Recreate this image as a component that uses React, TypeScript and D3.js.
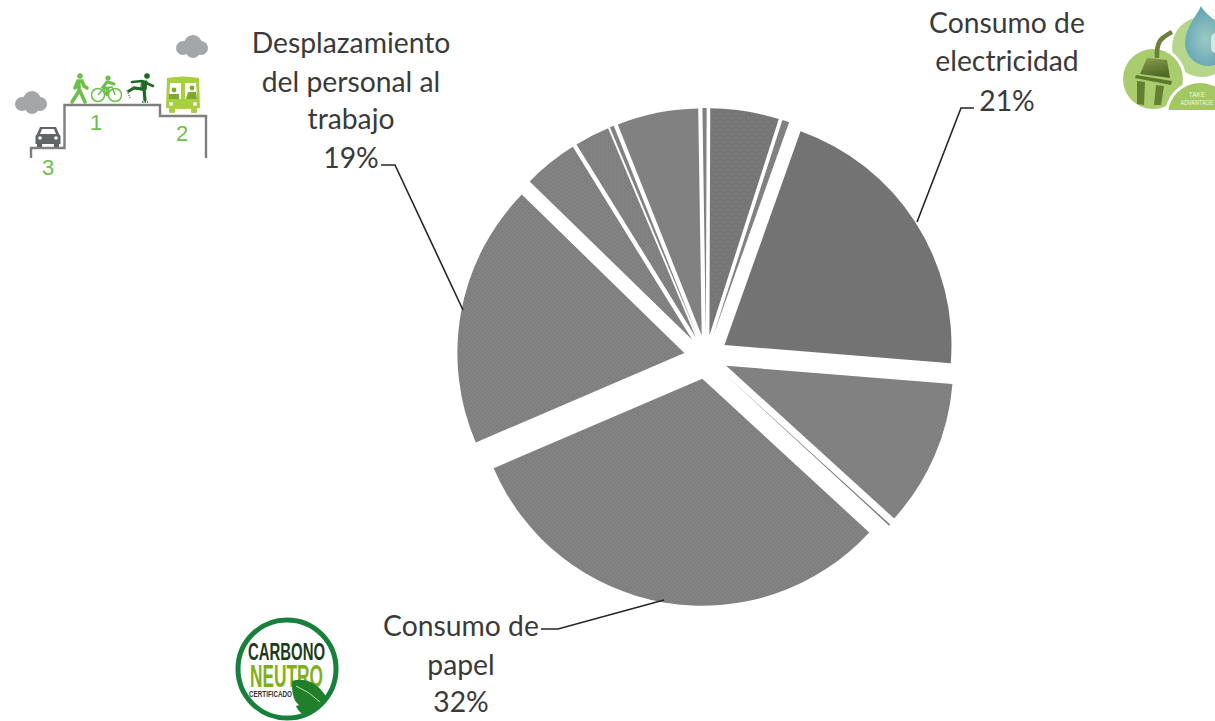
import React from "react";
import * as d3 from "d3";

const sliceNames = ["Fuente A", "Fuente B", "Consumo de electricidad", "Fuente D", "Fuente E", "Consumo de papel", "Desplazamiento del personal al trabajo", "Fuente F", "Fuente G", "Fuente H", "Fuente I", "Fuente J"];
const sliceValues = [4.9, 0.5, 20.9, 10.5, 0.1, 31.8, 18.8, 3.9, 2.5, 0.3, 5.8, 0.3];
const sliceFills = ["url(#ditherDark)", "url(#dither)", "#737373", "url(#dither)", "#777777", "url(#dither)", "url(#dither)", "url(#dither)", "url(#dither)", "url(#dither)", "url(#dither)", "url(#dither)"];

const labelLines = [
  { lines: ["Desplazamiento", "del personal al", "trabajo", "19%"], x: 351, ys: [53, 92, 129, 168] },
  { lines: ["Consumo de", "electricidad", "21%"], x: 1007, ys: [33, 71, 111] },
  { lines: ["Consumo de", "papel", "32%"], x: 461, ys: [636, 675, 712] },
];
const leaders = [
  [[381, 165], [395, 165], [463, 310]],
  [[917, 222], [961, 108], [974, 108]],
  [[541, 629], [558, 629], [664, 600]],
];

const CX = 706, CY = 357, R = 227, EXPLODE = 22;
const FONT = "Lato, 'Noto Sans', sans-serif";
const NARROW = "'Liberation Sans Narrow', 'Liberation Sans', sans-serif";

function Cloud({ x, y }: { x: number; y: number }) {
  return (
    <g fill="#a4a6a9" transform={`translate(${x},${y})`}>
      <circle cx={-9} cy={1} r={7} />
      <circle cx={1} cy={-3} r={9} />
      <circle cx={9} cy={1} r={7} />
      <circle cx={1} cy={4} r={7} />
    </g>
  );
}

export default function App() {
  const pie = d3.pie<number>().sort(null).startAngle((0.2 * Math.PI) / 180).endAngle(2 * Math.PI + (0.2 * Math.PI) / 180);
  const arcs = pie(sliceValues);
  const arc = d3.arc<d3.PieArcDatum<number>>().innerRadius(0).outerRadius(R);
  const line = d3.line();

  return (
    <svg width={1215} height={721} viewBox="0 0 1215 721" style={{ position: "absolute", left: 0, top: 0, background: "#fff" }}>
      <defs>
        <pattern id="dither" width={4} height={4} patternUnits="userSpaceOnUse">
          <rect width={4} height={4} fill="#838383" />
          <rect x={0} y={0} width={1} height={1} fill="#707070" />
          <rect x={2} y={2} width={1} height={1} fill="#747474" />
        </pattern>
        <pattern id="ditherDark" width={8} height={8} patternUnits="userSpaceOnUse">
          <rect width={8} height={8} fill="#767676" />
          <rect x={2} y={2} width={1} height={1} fill="#8c8c8c" />
          <rect x={6} y={6} width={1} height={1} fill="#8c8c8c" />
        </pattern>
        <radialGradient id="drop" cx="0.45" cy="0.55" r="0.7">
          <stop offset="0" stopColor="#9cc9c4" />
          <stop offset="1" stopColor="#4f98ad" />
        </radialGradient>
        <linearGradient id="plug" x1="0" y1="0" x2="0.3" y2="1">
          <stop offset="0" stopColor="#8a9c50" />
          <stop offset="1" stopColor="#4f6a25" />
        </linearGradient>
        <clipPath id="iconClip"><rect x={1100} y={0} width={115} height={110} /></clipPath>
        <clipPath id="leafClip"><circle cx={287} cy={669} r={49} /></clipPath>
      </defs>

      {/* Pie */}
      <g transform={`translate(${CX},${CY})`}>
        {arcs.map((a, i) => {
          const mid = (a.startAngle + a.endAngle) / 2;
          return (
            <path
              key={sliceNames[i]}
              d={arc(a) as string}
              fill={sliceFills[i]}
              transform={`translate(${EXPLODE * Math.sin(mid)},${-EXPLODE * Math.cos(mid)})`}
            />
          );
        })}
      </g>

      {/* Leader lines */}
      {leaders.map((l, i) => (
        <path key={i} d={line(l as [number, number][]) as string} fill="none" stroke="#262626" strokeWidth={1.6} />
      ))}

      {/* Labels */}
      {labelLines.map((g, i) => (
        <g key={i} fontFamily={FONT} fontSize={28.3} fill="#3a3a3a" textAnchor="middle">
          {g.lines.map((t, j) => (
            <text key={j} x={g.x} y={g.ys[j]}>{t}</text>
          ))}
        </g>
      ))}

      {/* Top-left: staircase pictogram */}
      <path d="M31,158 V148 H64.5 V105 H160 V116 H206 V158" fill="none" stroke="#7d7f80" strokeWidth={2.4} />
      <Cloud x={31} y={103} />
      <Cloud x={192} y={47} />
      <g fill="#6cc04a" stroke="#6cc04a">
        <circle cx={80} cy={76} r={2.8} stroke="none" />
        <path d="M78,81 L82,81 L84,86 L87,88 M78,81 L75,88 M79,84 L79,91 L72,102 M80,91 L85,102" fill="none" strokeWidth={3.6} strokeLinecap="round" />
      </g>
      <g fill="none" stroke="#6cc04a" strokeWidth={1.5}>
        <circle cx={98} cy={95} r={6.5} />
        <circle cx={115} cy={95} r={6.5} />
        <path d="M98,95 L104,88 L112,87 L115,95 M104,88 L106,95" />
        <circle cx={108} cy={78} r={2.6} fill="#6cc04a" stroke="none" />
        <path d="M107,82 L103,87 L108,89 L107,95 M108,82 L114,84" strokeWidth={3} strokeLinecap="round" />
      </g>
      <g stroke="#1f6b23" fill="none" strokeLinecap="round">
        <circle cx={147} cy={76} r={2.8} fill="#1f6b23" stroke="none" />
        <path d="M132,82 L142,81 L153,86" strokeWidth={2.6} />
        <path d="M142,81 L147,81 L146,90 L141,90 Z" fill="#1f6b23" strokeWidth={1} />
        <path d="M142,89 L134,88 L129,91" strokeWidth={3.2} />
        <path d="M144,89 L145,100" strokeWidth={3.2} />
        <path d="M142,102 H148" strokeWidth={1.6} strokeDasharray="1.5 1" strokeLinecap="butt" />
        <path d="M127,90 L130,98" strokeWidth={1.4} stroke="#777" strokeDasharray="1.5 1" strokeLinecap="butt" />
      </g>
      <g transform="translate(183,95)">
        <path d="M-16,-17 Q0,-20 16,-17 L17,13 Q0,15 -17,13 Z" fill="#a8cf3f" />
        <rect x={-14} y={13} width={6} height={5} rx={1} fill="#a8cf3f" />
        <rect x={8} y={13} width={6} height={5} rx={1} fill="#a8cf3f" />
        <path d="M-13,-12 H-2 V4 H-14 Z M2,-12 H13 L14,4 H2 Z" fill="#fff" />
        <circle cx={-9} cy={-5} r={2.4} fill="#7ea92e" />
        <circle cx={9} cy={-7} r={2.4} fill="#7ea92e" />
        <path d="M-14,4 V-1 H-4 V4 Z M3,4 L5,-3 H13 L14,4 Z" fill="#7ea92e" />
        <circle cx={-12} cy={9} r={2} fill="#fff" />
        <circle cx={12} cy={9} r={2} fill="#fff" />
      </g>
      <g transform="translate(48,136)" fill="#636466">
        <path d="M-8,-9 H8 L11,-2 L12.5,0 V8 H-12.5 V0 L-11,-2 Z" />
        <rect x={-11} y={8} width={5} height={3} />
        <rect x={6} y={8} width={5} height={3} />
        <path d="M-6,-7 H6 L8,-2 H-8 Z" fill="#fff" />
        <circle cx={-8} cy={2} r={1.8} fill="#fff" />
        <circle cx={8} cy={2} r={1.8} fill="#fff" />
      </g>
      <g fontFamily={NARROW} fontSize={22} fill="#6cc04a" textAnchor="middle">
        <text x={96} y={130}>1</text>
        <text x={182} y={141}>2</text>
        <text x={48} y={175}>3</text>
      </g>

      {/* Top-right: plug and drop icon */}
      <g clipPath="url(#iconClip)">
        <circle cx={1202} cy={47} r={30} fill="#b6d68b" />
        <circle cx={1153} cy={79} r={33} fill="#fff" />
        <circle cx={1153} cy={79} r={30} fill="#a9cc6d" />
        <path d="M1201,6 C1206,17 1231,28 1231,43 A23,23 0 0 1 1185,43 C1185,28 1196,17 1201,6 Z" fill="url(#drop)" />
        <rect x={1211} y={33} width={10} height={20} rx={5} fill="#cfe8e2" />
        <circle cx={1200} cy={115} r={35} fill="#fff" />
        <circle cx={1200} cy={115} r={32} fill="#a3c763" />
        <path d="M1157,58 Q1156,42 1164,37 Q1168,34 1172,32" fill="none" stroke="#6d7f3a" strokeWidth={4.5} />
        <path d="M1147,58 L1167,60 L1170,78 L1140,74 Z" fill="url(#plug)" />
        <path d="M1136,75 L1172,81 L1171,85 L1135,78 Z" fill="#5d7a2c" />
        <path d="M1137,81 L1145,82 L1144,105 L1137,104 Z M1156,85 L1164,86 L1161,105 L1154,105 Z" fill="#647f33" />
      </g>
      <text x={1197} y={97} fontFamily={NARROW} fontSize={6.5} fill="#eef5dc" textAnchor="middle">TAKE</text>
      <text x={1197} y={105} fontFamily={NARROW} fontSize={6.5} fill="#eef5dc" textAnchor="middle" textLength={33} lengthAdjust="spacingAndGlyphs">ADVANTAGE</text>

      {/* Bottom-left: badge */}
      <circle cx={287} cy={669} r={49} fill="#fff" stroke="#17803a" strokeWidth={5} />
      <text x={248} y={660} fontFamily={NARROW} fontWeight={700} fontSize={23} fill="#1c3a1c" textLength={77} lengthAdjust="spacingAndGlyphs">CARBONO</text>
      <text x={250} y={687} fontFamily={NARROW} fontWeight={700} fontSize={31} fill="#7fb01c" textLength={73} lengthAdjust="spacingAndGlyphs">NEUTRO</text>
      <text x={249} y={697} fontFamily={NARROW} fontWeight={700} fontSize={9.5} fill="#333" textLength={43} lengthAdjust="spacingAndGlyphs">CERTIFICADO</text>
      <g clipPath="url(#leafClip)">
        <path d="M292,681 C304,677 318,682 327,698 C322,712 304,712 296,702 C292,696 292,688 292,681 Z" fill="#1f7f2a" />
        <path d="M296,686 Q310,692 320,702" fill="none" stroke="#bfe0a0" strokeWidth={1} />
        <path d="M296,706 C304,702 312,706 318,713 C310,718 300,716 296,706 Z" fill="#1f7f2a" />
      </g>
    </svg>
  );
}
